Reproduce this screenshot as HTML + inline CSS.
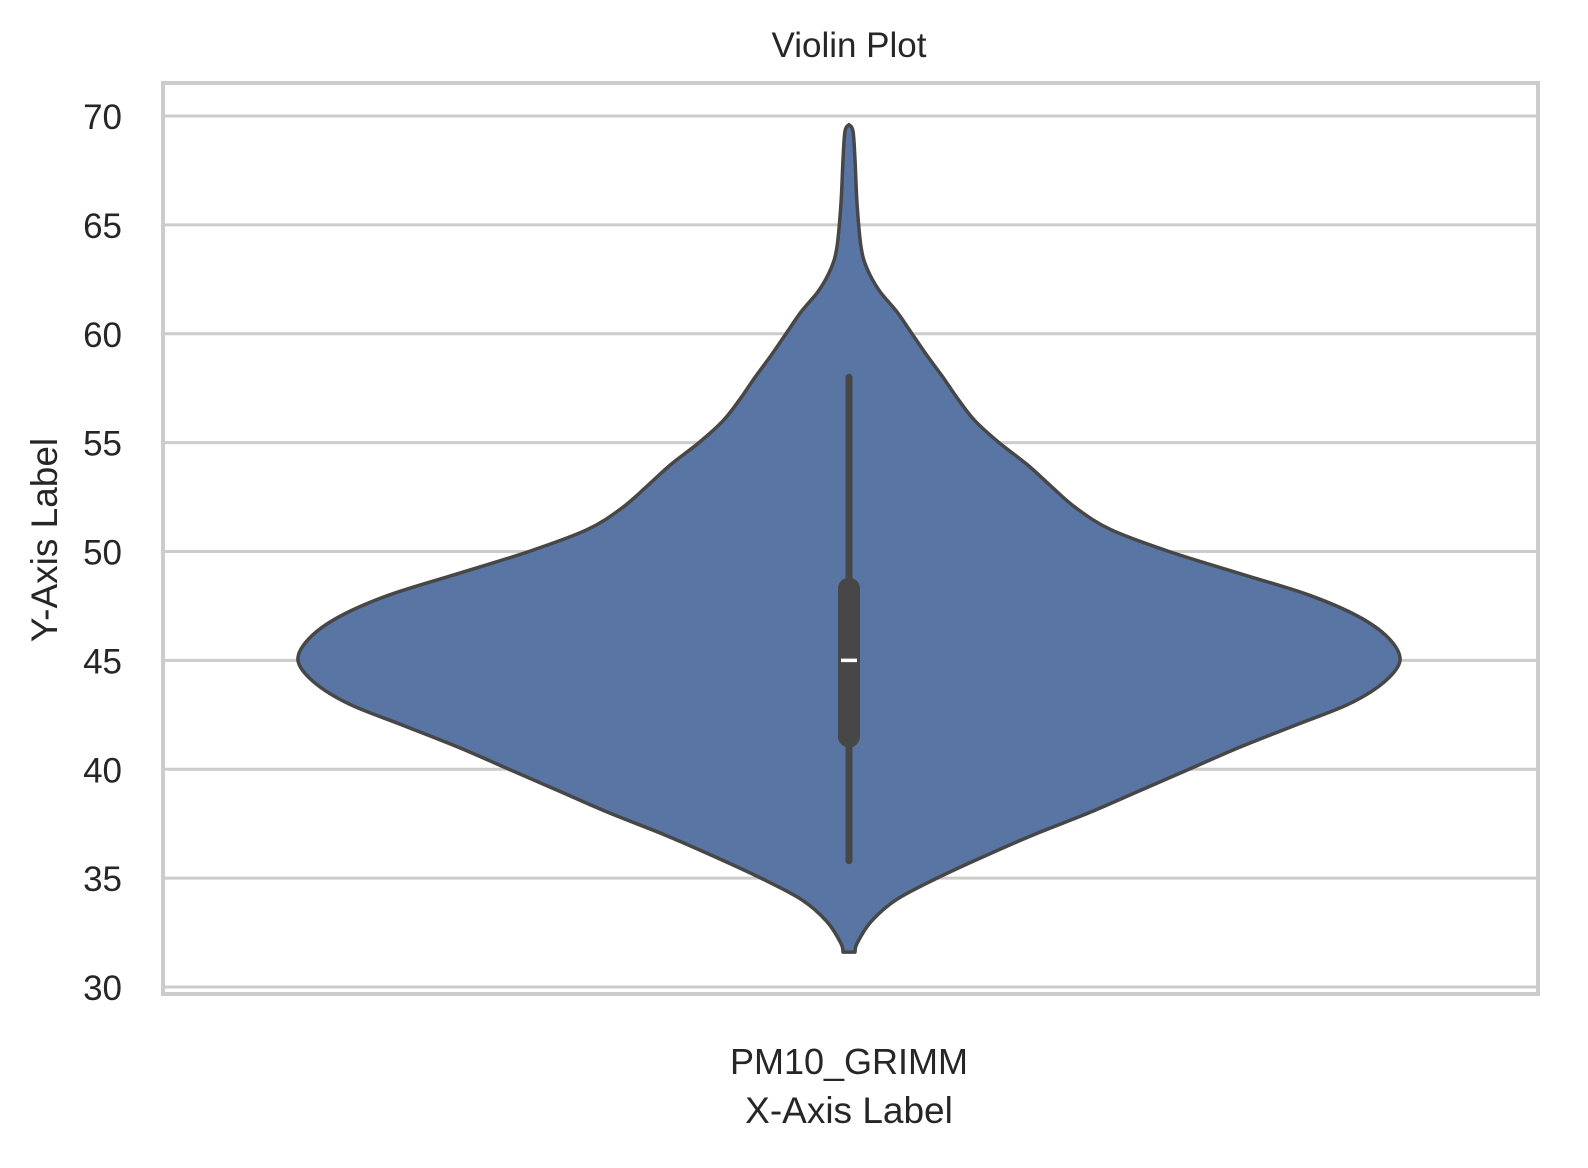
<!DOCTYPE html>
<html><head><meta charset="utf-8"><style>
body{margin:0;background:#fff;}
svg text{font-family:"Liberation Sans",Arial,sans-serif;fill:#262626;}
</style></head><body>
<svg id="chart" width="1588" height="1163" viewBox="0 0 1588 1163" xmlns="http://www.w3.org/2000/svg">
<rect width="1588" height="1163" fill="#fff"/>
<g id="grid"></g>
<g id="violin"></g>
<rect x="163" y="83" width="1375" height="911" fill="none" stroke="#cccccc" stroke-width="4"/>
<g id="yticks"></g>
<text x="849" y="57" font-size="35" text-anchor="middle">Violin Plot</text>
<text x="849" y="1074" font-size="36" text-anchor="middle">PM10_GRIMM</text>
<text x="849" y="1123" font-size="37" text-anchor="middle">X-Axis Label</text>
<text transform="translate(57,540) rotate(-90)" font-size="37" text-anchor="middle">Y-Axis Label</text>
</svg>
<script>
const yTicks=[30,35,40,45,50,55,60,65,70];
const densityY=[69.6,69.3,68,66,64,63,62,61,60,59,58,57,56,55,54,53,52,51,50,49,48,47,46,45,44,43,42,41,40,39,38,37,36,35,34,33,32,31.6];
const densityHalfWidth=[0,4,6,8,12,18,30,48,63,78,94,109,126,150,178,202,227,262,320,390,460,510,540,551,535,500,445,390,340,290,240,185,135,88,47,22,8,6];
const boxStats=[35.8,41.5,45,48.3,58];
const NS='http://www.w3.org/2000/svg';
const yScale=v=>987-(v-30)*(987-116)/40;
const cx=849;
const grid=document.getElementById('grid'),yt=document.getElementById('yticks'),vg=document.getElementById('violin');
yTicks.forEach(t=>{
 const y=yScale(t);
 const l=document.createElementNS(NS,'line');
 
 
 l.setAttribute('x1',163);l.setAttribute('x2',1538);l.setAttribute('y1',y);l.setAttribute('y2',y);
 l.setAttribute('stroke','#cccccc');l.setAttribute('stroke-width','3');grid.appendChild(l);
 const tx=document.createElementNS(NS,'text');
 
 
 tx.setAttribute('x',122);tx.setAttribute('y',y+13);tx.setAttribute('font-size','35');tx.setAttribute('text-anchor','end');
 tx.textContent=t;yt.appendChild(tx);
});
function pathFrom(pts){
 let d='M'+pts[0][0]+','+pts[0][1];
 for(let i=0;i<pts.length-1;i++){
  const p0=pts[Math.max(0,i-1)],p1=pts[i],p2=pts[i+1],p3=pts[Math.min(pts.length-1,i+2)];
  const c1=[p1[0]+(p2[0]-p0[0])/6,p1[1]+(p2[1]-p0[1])/6],c2=[p2[0]-(p3[0]-p1[0])/6,p2[1]-(p3[1]-p1[1])/6];
  d+=`C${c1[0]},${c1[1]} ${c2[0]},${c2[1]} ${p2[0]},${p2[1]}`;
 }
 return d;
}
const right=densityY.map((v,i)=>[cx+densityHalfWidth[i],yScale(v)]);
const left=densityY.map((v,i)=>[cx-densityHalfWidth[i],yScale(v)]).reverse();
const d=pathFrom(right)+'L'+pathFrom(left).slice(1)+'Z';
const body=document.createElementNS(NS,'path');


body.setAttribute('d',d);body.setAttribute('fill','#5875a4');body.setAttribute('stroke','#474747');body.setAttribute('stroke-width','3.5');body.setAttribute('stroke-linejoin','round');
vg.appendChild(body);
const wh=document.createElementNS(NS,'line');


wh.setAttribute('x1',cx);wh.setAttribute('x2',cx);wh.setAttribute('y1',yScale(boxStats[0]));wh.setAttribute('y2',yScale(boxStats[4]));
wh.setAttribute('stroke','#474747');wh.setAttribute('stroke-width','7');wh.setAttribute('stroke-linecap','round');vg.appendChild(wh);
const bx=document.createElementNS(NS,'line');


bx.setAttribute('x1',cx);bx.setAttribute('x2',cx);bx.setAttribute('y1',yScale(boxStats[1]));bx.setAttribute('y2',yScale(boxStats[3]));
bx.setAttribute('stroke','#474747');bx.setAttribute('stroke-width','22');bx.setAttribute('stroke-linecap','round');vg.appendChild(bx);
const md=document.createElementNS(NS,'line');


md.setAttribute('x1',cx-8);md.setAttribute('x2',cx+8);md.setAttribute('y1',yScale(boxStats[2]));md.setAttribute('y2',yScale(boxStats[2]));
md.setAttribute('stroke','#fff');md.setAttribute('stroke-width','3.5');vg.appendChild(md);
</script>
</body></html>
